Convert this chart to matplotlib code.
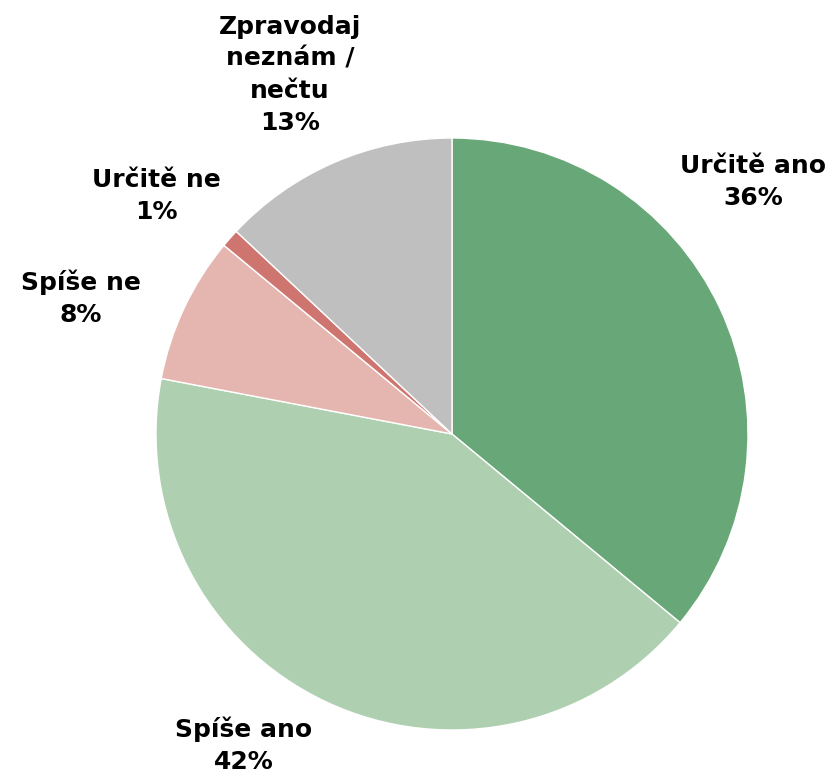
import matplotlib.pyplot as plt

# Data
labels = ["Určitě ano", "Spíše ano", "Spíše ne", "Určitě ne", "Zpravodaj\nneznám /\nnečtu"]
values = [36, 42, 8, 1, 13]
colors = ["#68A878", "#AED0B0", "#E5B6B0", "#CF7570", "#BFBFBF"]

# label positions (in units of pie radius, relative to centre)
label_pos = [(1.017, 0.851), (-0.703, -1.051), (-1.253, 0.459), (-1.0, 0.804), (-0.547, 1.213)]

fig = plt.figure(figsize=(8.32, 7.74), dpi=100)
ax = fig.add_axes([0, 0, 1, 1])

ax.pie(values, colors=colors, startangle=90, counterclock=False, radius=1.0,
       wedgeprops=dict(edgecolor="white", linewidth=1))

for lab, val, (x, y) in zip(labels, values, label_pos):
    ax.text(x, y, f"{lab}\n{val}%", ha="center", va="center", fontsize=18,
            fontweight="bold", linespacing=1.42, color="black")

ax.set_xlim(-452 / 296, (832 - 452) / 296)
ax.set_ylim(-(774 - 434) / 296, 434 / 296)
ax.set_aspect("equal")
ax.axis("off")

fig.savefig("out.png", dpi=100)
